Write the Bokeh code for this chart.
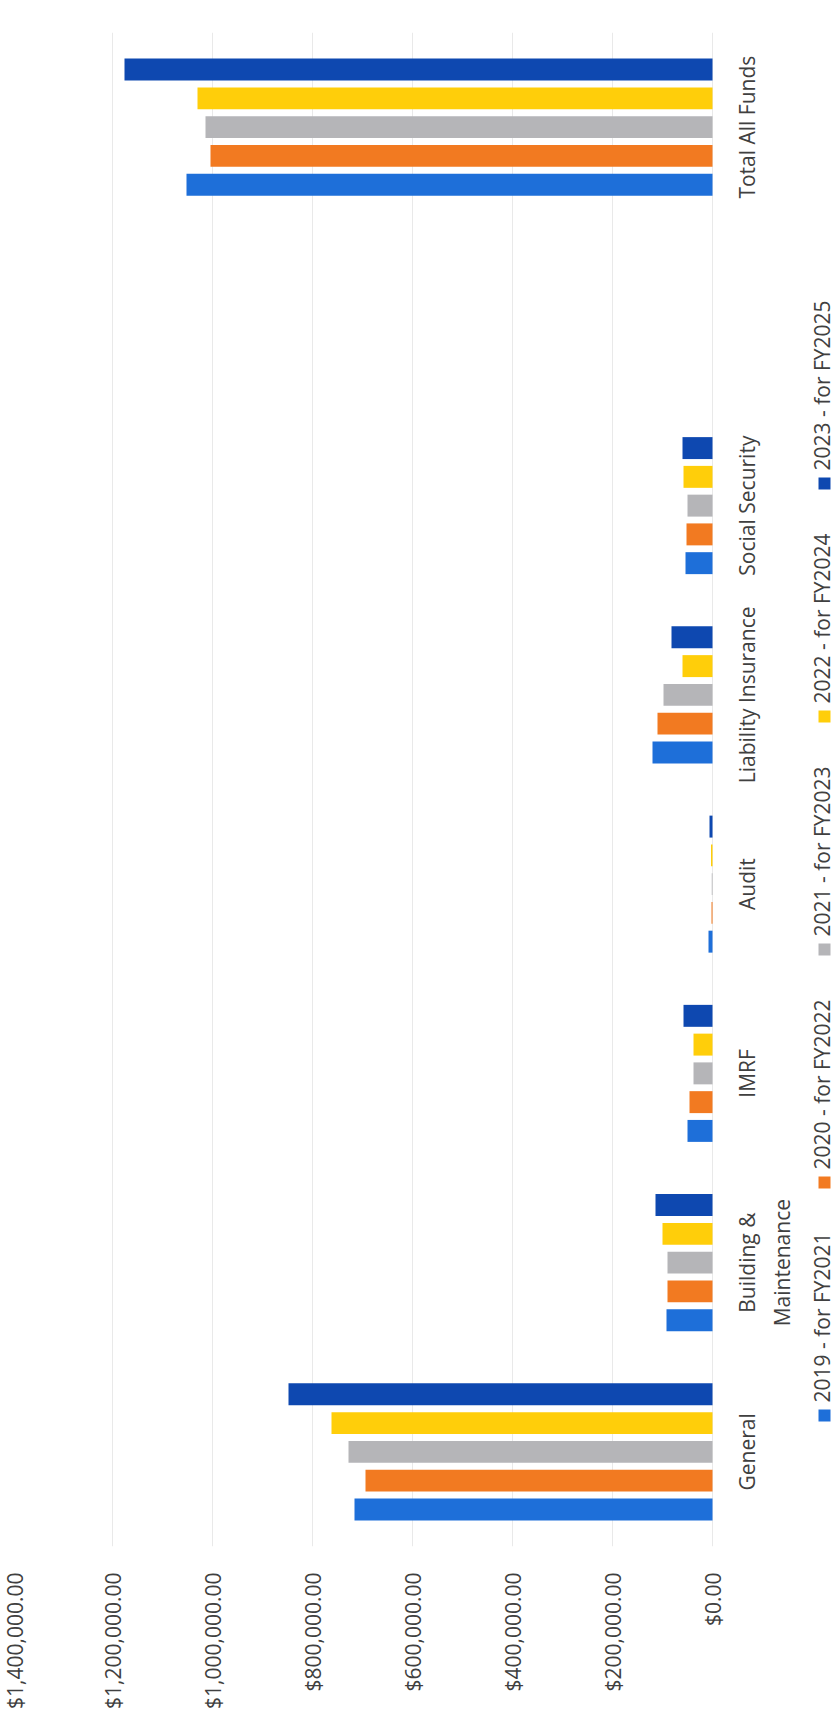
import math
from bokeh.plotting import figure
from bokeh.models import Range1d, FactorRange, FixedTicker, NumeralTickFormatter, ColumnDataSource
from bokeh.transform import dodge
from bokeh.core.properties import value
from bokeh.embed import file_html
from bokeh.resources import INLINE

# ---- data ----
categories = ["General", "Building &\nMaintenance", "IMRF", "Audit",
              "Liability Insurance", "Social Security", "Total All Funds"]
axis_factors = ["General", "Building &\nMaintenance", "IMRF", "Audit",
                "Liability Insurance", "Social Security", " ", "Total All Funds"]
series_names = ["2019 - for FY2021", "2020 - for FY2022", "2021 - for FY2023",
                "2022 - for FY2024", "2023 - for FY2025"]
v2019 = [716000, 92000, 50000, 8000, 120000, 54000, 1052000]
v2020 = [694000, 90000, 46000, 2000, 110000, 52000, 1004000]
v2021 = [728000, 90000, 38000, 1500, 98000, 50000, 1014000]
v2022 = [762000, 100000, 38000, 3000, 60000, 58000, 1030000]
v2023 = [848000, 114000, 58000, 6000, 82000, 60000, 1176000]
value_ticks = [0, 200000, 400000, 600000, 800000, 1000000, 1200000, 1400000]

colors = ["#1E6FD9", "#F27A21", "#B5B5B8", "#FFCE0A", "#0E48B0"]
offsets = [-0.304, -0.152, 0.0, 0.152, 0.304]

FONT = "Open Sans"
TXT = "#404040"
FS = "21px"
W, H = 836, 1718
TOP, BOTTOM, LEFT = 32, 172, 12
ZERO_PX = 712                      # screen x of the $0 line
frame_w = W - LEFT
frame_h = H - TOP - BOTTOM
val_per_px = value_ticks[-1] / (ZERO_PX - LEFT)
x_end = -(W - ZERO_PX) * val_per_px   # room right of $0 for labels and legend
band_px = frame_h / len(axis_factors)


def px_to_x(px):
    return -(px - ZERO_PX) * val_per_px


def py_to_y(py):
    return (H - BOTTOM - py) / band_px


src = ColumnDataSource(dict(cat=categories, v2019=v2019, v2020=v2020,
                            v2021=v2021, v2022=v2022, v2023=v2023))
keys = ["v2019", "v2020", "v2021", "v2022", "v2023"]

p = figure(width=W, height=H,
           x_range=Range1d(value_ticks[-1], x_end),
           y_range=FactorRange(factors=axis_factors),
           y_axis_location=None,
           output_backend="svg", toolbar_location=None,
           min_border_left=LEFT, min_border_top=TOP, min_border_bottom=BOTTOM,
           min_border_right=0)
p.outline_line_color = None
p.background_fill_color = "white"
p.border_fill_color = "white"

for k, c, off in zip(keys, colors, offsets):
    p.hbar(y=dodge("cat", off, range=p.y_range), left=0, right=k, height=0.116,
           source=src, fill_color=c, line_color=None)

p.xaxis.ticker = FixedTicker(ticks=value_ticks)
p.xaxis.formatter = NumeralTickFormatter(format="$0,0.00")
p.xaxis.major_label_orientation = math.pi / 2
p.xaxis.axis_line_color = None
p.xaxis.major_tick_line_color = None
p.xaxis.minor_tick_line_color = None
p.xaxis.major_label_standoff = 20
p.xaxis.major_label_text_font = FONT
p.xaxis.major_label_text_font_size = FS
p.xaxis.major_label_text_color = TXT

p.xgrid.ticker = FixedTicker(ticks=value_ticks)
p.xgrid.grid_line_color = "#e9e9e9"
p.ygrid.visible = False

# ---- category labels (rotated, right of the $0 line) ----
p.text(x=px_to_x(732), y="cat", text="cat", angle=math.pi / 2, text_align="center",
       text_baseline="top", text_font=value(FONT), text_font_size=FS,
       text_color=TXT, text_line_height=1.25, source=src)

# ---- rotated legend ----
leg_center = 949
pitch = 233
sq_py = [leg_center + (2 - i) * pitch for i in range(len(series_names))]
leg_src = ColumnDataSource(dict(name=series_names, color=colors,
                                sy=[py_to_y(v) for v in sq_py],
                                ty=[py_to_y(v - 13) for v in sq_py]))
p.scatter(x=px_to_x(824), y="sy", marker="square", size=12, fill_color="color",
          line_color=None, source=leg_src)
p.text(x=px_to_x(821), y="ty", text="name", angle=math.pi / 2, text_align="left",
       text_baseline="middle", text_font=value(FONT), text_font_size=FS,
       text_color=TXT, source=leg_src)

open("out.html", "w").write(file_html(p, INLINE))
